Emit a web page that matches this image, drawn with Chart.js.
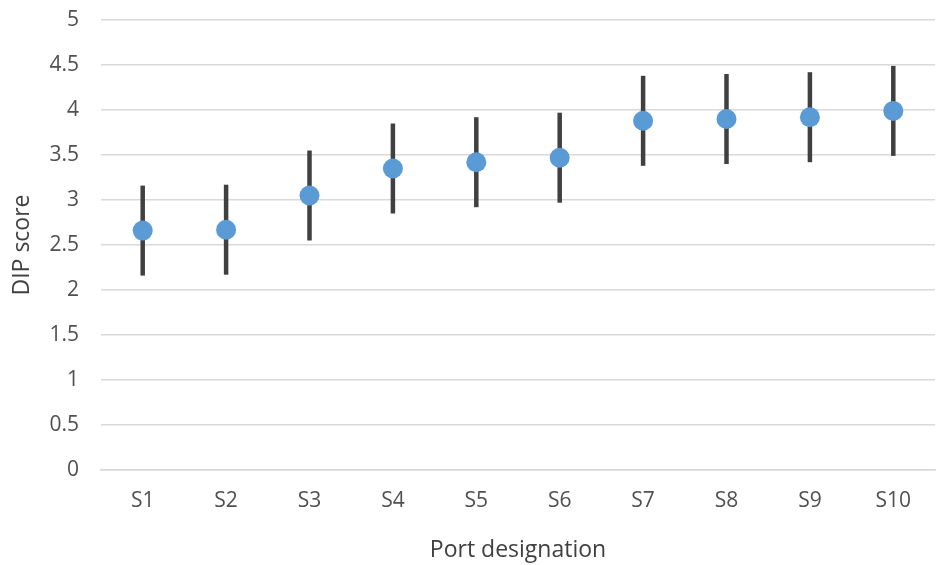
<!DOCTYPE html>
<html lang="en">
<head>
    <meta charset="utf-8" />
    <title>DIP score by port</title>
    <script src="https://cdn.jsdelivr.net/npm/chart.js"></script>
    <style>
        html, body { margin: 0; padding: 0; background: #fff; }
    </style>
</head>
<body>
    <canvas id="chart" width="940" height="565" style="width: 940px; height: 565px"></canvas>
    <script type="text/javascript">
        // values
        var ports = ['S1', 'S2', 'S3', 'S4', 'S5', 'S6', 'S7', 'S8', 'S9', 'S10'];
        var scores = [2.66, 2.67, 3.05, 3.35, 3.42, 3.47, 3.88, 3.90, 3.92, 3.99];
        var errors = [0.5, 0.5, 0.5, 0.5, 0.5, 0.5, 0.5, 0.5, 0.5, 0.5];

        var font = "'Open Sans', 'Noto Sans', sans-serif";

        // vertical error bars drawn behind the points
        var errorBars = {
            id: 'errorBars',
            beforeDatasetsDraw: function (chart) {
                var ctx = chart.ctx;
                var x = chart.scales.x;
                var y = chart.scales.y;
                ctx.save();
                ctx.strokeStyle = '#404040';
                ctx.lineWidth = 4.5;
                ctx.lineCap = 'butt';
                for (var i = 0; i < scores.length; i++) {
                    var px = x.getPixelForValue(i);
                    ctx.beginPath();
                    ctx.moveTo(px, y.getPixelForValue(scores[i] + errors[i]));
                    ctx.lineTo(px, y.getPixelForValue(scores[i] - errors[i]));
                    ctx.stroke();
                }
                ctx.restore();
            }
        };

        new Chart(document.getElementById('chart'), {
            type: 'line',
            data: {
                labels: ports,
                datasets: [{
                    data: scores,
                    showLine: false,
                    pointRadius: 10,
                    pointHoverRadius: 10,
                    pointBorderWidth: 0,
                    pointBackgroundColor: '#5b9bd5',
                    borderColor: '#5b9bd5'
                }]
            },
            options: {
                responsive: false,
                animation: false,
                layout: { autoPadding: false, padding: { top: 20, right: 5, left: 0, bottom: 0 } },
                plugins: {
                    legend: { display: false },
                    tooltip: { enabled: false }
                },
                scales: {
                    x: {
                        offset: true,
                        grid: { display: false, drawTicks: false },
                        border: { display: true, color: '#d9d9d9', width: 1.5 },
                        ticks: { color: '#505050', font: { family: font, size: 21 }, padding: 18 },
                        title: {
                            display: true,
                            text: 'Port designation',
                            color: '#404040',
                            font: { family: font, size: 23 },
                            padding: { top: 10, bottom: 1 }
                        },
                        afterFit: function (scale) {
                            scale.height = 95;
                            scale.paddingLeft = 0;
                            scale.paddingRight = 0;
                        }
                    },
                    y: {
                        min: 0,
                        max: 5,
                        ticks: {
                            stepSize: 0.5,
                            color: '#505050',
                            font: { family: font, size: 21 },
                            padding: 22,
                            callback: function (v) { return String(v); }
                        },
                        grid: { color: '#d9d9d9', lineWidth: 1.5, drawTicks: false },
                        border: { display: false },
                        title: {
                            display: true,
                            text: 'DIP score',
                            color: '#404040',
                            font: { family: font, size: 23 },
                            padding: { top: 9, bottom: 4 }
                        },
                        afterFit: function (scale) {
                            scale.width = 101;
                            scale.paddingTop = 0;
                            scale.paddingBottom = 0;
                        }
                    }
                }
            },
            plugins: [errorBars]
        });
    </script>
</body>
</html>
